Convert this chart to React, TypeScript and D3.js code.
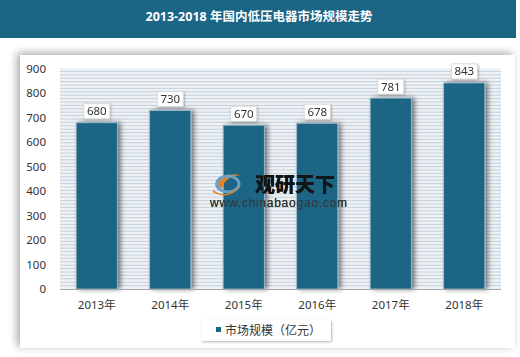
import React from "react";
import * as d3 from "d3";

const title = "2013-2018 年国内低压电器市场规模走势";
const categories = ["2013年", "2014年", "2015年", "2016年", "2017年", "2018年"];
const values = [680, 730, 670, 678, 781, 843];
const yTicks = [0, 100, 200, 300, 400, 500, 600, 700, 800, 900];
const legendLabel = "市场规模（亿元）";
const watermarkName = "观研天下";
const watermarkUrl = "www.chinabaogao.com";

const W = 520;
const H = 357;
const plotLeft = 60;
const plotRight = 501;
const plotTop = 68;
const plotBottom = 289;
const barColor = "#1b6585";
const fontStack = "'Noto Sans', 'Noto Sans CJK SC', 'DejaVu Sans', sans-serif";

export default function App() {
  const x = d3
    .scaleBand<string>()
    .domain(categories)
    .range([plotLeft, plotRight])
    .paddingInner(0.44)
    .paddingOuter(0.22);
  const y = d3.scaleLinear().domain([0, 900]).range([plotBottom, 69]);

  const stripes: number[] = [];
  for (let yy = plotBottom - 3.4; yy >= plotTop; yy -= 3.4) stripes.push(yy);

  const wm = (
    <>
      <text x={255} y={192} style={{ fontFamily: "'Noto Sans CJK SC', sans-serif", fontSize: 20, fontWeight: 900 }} fill="#111">
        {watermarkName}
      </text>
      <text x={210} y={207} style={{ fontFamily: "'Liberation Sans', Arial, sans-serif", fontSize: 12 }} fill="#333" textLength={137}>
        {watermarkUrl}
      </text>
    </>
  );

  const logo = (stroke: string) => (
    <>
      <path d="M215,186 q8,-15 26,-11 q-15,1 -19,13 z" fill="#e8841f" />
      <ellipse cx={228} cy={184} rx={11} ry={8} fill="none" stroke={stroke} strokeWidth={3} />
      <path d="M213,190 q12,10 27,-4 q-10,15 -27,6 z" fill="#e8841f" />
    </>
  );

  return (
    <svg
      width={W}
      height={H}
      style={{ position: "absolute", left: 0, top: 0, background: "#fff", fontFamily: fontStack }}
    >
      <defs>
        <filter id="panelShadow" x="-10%" y="-10%" width="120%" height="120%">
          <feGaussianBlur in="SourceAlpha" stdDeviation="4" />
          <feOffset dx="-3" dy="-2" result="b" />
          <feComponentTransfer>
            <feFuncA type="linear" slope="0.35" />
          </feComponentTransfer>
          <feMerge>
            <feMergeNode />
            <feMergeNode in="SourceGraphic" />
          </feMerge>
        </filter>
        <filter id="barShadow" x="-30%" y="-10%" width="180%" height="120%">
          <feGaussianBlur in="SourceAlpha" stdDeviation="2.5" />
          <feOffset dx="3" dy="0" result="b" />
          <feComponentTransfer>
            <feFuncA type="linear" slope="0.5" />
          </feComponentTransfer>
          <feMerge>
            <feMergeNode />
            <feMergeNode in="SourceGraphic" />
          </feMerge>
        </filter>
        <filter id="boxShadow" x="-20%" y="-20%" width="140%" height="150%">
          <feGaussianBlur in="SourceAlpha" stdDeviation="1.2" />
          <feOffset dx="1" dy="1" result="b" />
          <feComponentTransfer>
            <feFuncA type="linear" slope="0.3" />
          </feComponentTransfer>
          <feMerge>
            <feMergeNode />
            <feMergeNode in="SourceGraphic" />
          </feMerge>
        </filter>
      </defs>

      {/* title bar */}
      <rect x={0} y={0} width={516} height={38} fill="#1b6585" />
      <text
        x={259}
        y={21}
        textAnchor="middle"
        fill="#fff"
        style={{ fontWeight: "bold", fontSize: 12.5 }}
      >
        {title}
      </text>

      {/* panel */}
      <rect x={20} y={55} width={495} height={293} fill="#fff" filter="url(#panelShadow)" />

      {/* plot background with stripes */}
      <rect x={plotLeft} y={plotTop} width={plotRight - plotLeft} height={plotBottom - plotTop} fill="#edf2f6" />
      {stripes.map((yy, i) => (
        <line key={i} x1={plotLeft} x2={plotRight} y1={yy} y2={yy} stroke="#c2ccd4" strokeWidth={0.9} />
      ))}

      {logo("#2f78a8")}
      {wm}

      {/* bars */}
      {categories.map((c, i) => (
        <rect
          key={c}
          x={x(c)!}
          y={y(values[i])}
          width={x.bandwidth()}
          height={plotBottom - y(values[i])}
          fill={barColor}
          stroke="#9fbccc"
          strokeWidth={0.8}
          filter="url(#barShadow)"
        />
      ))}

      {/* watermark over bars */}
      <g opacity={0.95}>
        {logo("#6fa6cc")}
        {wm}
      </g>

      {/* x axis line */}
      <line x1={plotLeft} x2={plotRight} y1={plotBottom + 0.5} y2={plotBottom + 0.5} stroke="#a6a6a6" strokeWidth={1.2} />

      {/* value labels */}
      {categories.map((c, i) => {
        const cx = x(c)! + x.bandwidth() / 2;
        const top = y(values[i]);
        return (
          <g key={c} filter="url(#boxShadow)">
            <rect x={cx - 13} y={top - 19} width={26} height={15} fill="#fff" stroke="#d5d5d5" strokeWidth={0.8} />
            <text x={cx} y={top - 7.5} textAnchor="middle" style={{ fontSize: 11.5 }} fill="#333">
              {values[i]}
            </text>
          </g>
        );
      })}

      {/* y ticks */}
      {yTicks.map((t) => (
        <text key={t} x={46} y={y(t) + 4} textAnchor="end" style={{ fontSize: 11.5 }} fill="#333">
          {t}
        </text>
      ))}

      {/* x labels */}
      {categories.map((c) => (
        <text key={c} x={x(c)! + x.bandwidth() / 2} y={309} textAnchor="middle" style={{ fontSize: 11.5 }} fill="#333">
          {c}
        </text>
      ))}

      {/* legend */}
      <rect x={201} y={320} width={130} height={21} fill="#fff" filter="url(#boxShadow)" />
      <rect x={216} y={327} width={5} height={5} fill={barColor} />
      <text x={225} y={335} style={{ fontSize: 12 }} fill="#333">
        {legendLabel}
      </text>
    </svg>
  );
}
